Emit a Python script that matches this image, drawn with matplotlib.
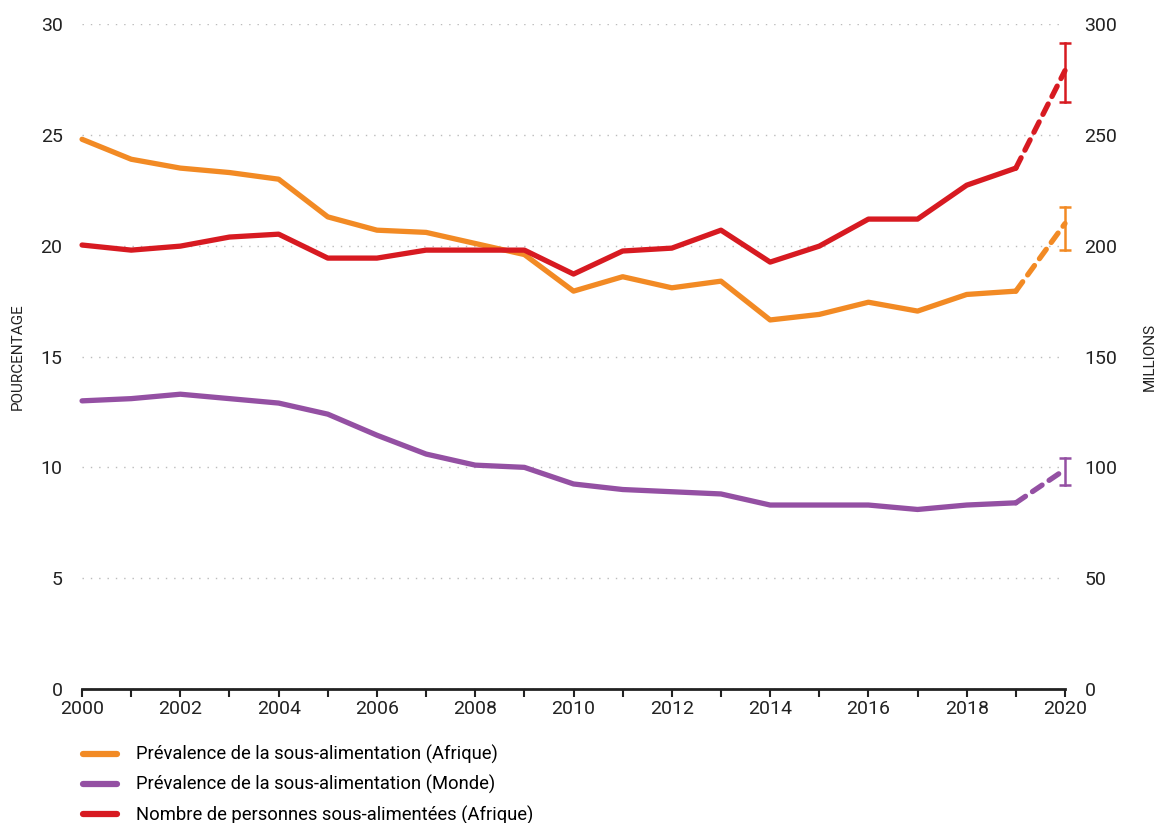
import numpy as np
import matplotlib.pyplot as plt

plt.rcParams['font.family'] = ['Roboto', 'DejaVu Sans']

years = np.arange(2000, 2021)

# prevalence of undernourishment, Africa (%)
afrique = [24.8, 23.9, 23.5, 23.3, 23.0, 21.3, 20.7, 20.6, 20.1, 19.6,
           17.95, 18.6, 18.1, 18.4, 16.65, 16.9, 17.45, 17.05, 17.8, 17.95, 21.0]
afrique_err = [19.8, 21.75]

# prevalence of undernourishment, world (%)
monde = [13.0, 13.1, 13.3, 13.1, 12.9, 12.4, 11.45, 10.6, 10.1, 10.0,
         9.25, 9.0, 8.9, 8.8, 8.3, 8.3, 8.3, 8.1, 8.3, 8.4, 9.9]
monde_err = [9.2, 10.4]

# number of undernourished people, Africa (millions)
nombre = [200.3, 198.0, 199.8, 203.9, 205.2, 194.4, 194.4, 198.0, 198.0, 198.0,
          187.2, 197.6, 198.9, 207.0, 192.6, 199.8, 212.0, 212.0, 227.3, 235.0, 279.0]
nombre_err = [264.8, 291.4]

labels = ['Prévalence de la sous-alimentation (Afrique)',
          'Prévalence de la sous-alimentation (Monde)',
          'Nombre de personnes sous-alimentées (Afrique)']

orange = '#F28A24'
violet = '#9450A3'
rouge = '#D71A21'
lw = 3.8

fig = plt.figure(figsize=(11.59, 8.23), dpi=100)
ax = fig.add_axes([0.0708, 0.1628, 0.8481, 0.808])
ax2 = ax.twinx()

def draw(a, y, err, color):
    a.plot(years[:-1], y[:-1], color=color, lw=lw, solid_capstyle='round',
           solid_joinstyle='round', clip_on=False)
    a.plot(years[-2:], y[-2:], color=color, lw=lw, ls=(0, (2.2, 1.6)),
           dash_capstyle='round', clip_on=False)
    a.plot([years[-1]] * 2, err, color=color, lw=1.8, clip_on=False)
    a.plot([years[-1]] * 2, err, color=color, lw=0, marker='_', ms=8, mew=1.8,
           clip_on=False)

draw(ax, afrique, afrique_err, orange)
draw(ax, monde, monde_err, violet)
draw(ax2, nombre, nombre_err, rouge)

ax.set_xlim(2000, 2020)
ax.set_ylim(0, 30)
ax2.set_ylim(0, 300)
ax.set_yticks(np.arange(0, 31, 5))
ax2.set_yticks(np.arange(0, 301, 50))
ax.set_xticks(years)
ax.set_xticklabels([str(y) if y % 2 == 0 else '' for y in years])

for a in (ax, ax2):
    for s in ('top', 'left', 'right', 'bottom'):
        a.spines[s].set_visible(False)
    a.tick_params(axis='y', length=0, labelsize=14, colors='#222222', pad=14)
ax.tick_params(axis='x', length=6, width=1.5, direction='out', labelsize=14,
               colors='#222222', pad=2)
ax.axhline(0, color='#222222', lw=2, zorder=5, clip_on=False)

ax.yaxis.grid(True, ls=(0, (1, 5)), color='#bbbbbb', lw=1)
ax.set_axisbelow(True)

ax.set_ylabel('POURCENTAGE', fontsize=11, color='#222222')
ax.yaxis.set_label_coords(-0.058, 0.5)
ax2.set_ylabel('MILLIONS', fontsize=11, color='#222222', rotation=90)
ax2.yaxis.set_label_coords(1.0794, 0.5)

handles = [plt.Line2D([], [], color=c, lw=4.5, solid_capstyle='round')
           for c in (orange, violet, rouge)]
fig.legend(handles, labels, loc='lower left', bbox_to_anchor=(0.057, -0.022),
           frameon=False, fontsize=13.2, handlelength=1.9, labelspacing=0.6,
           handletextpad=1.0)

fig.savefig('out.png', dpi=100)
